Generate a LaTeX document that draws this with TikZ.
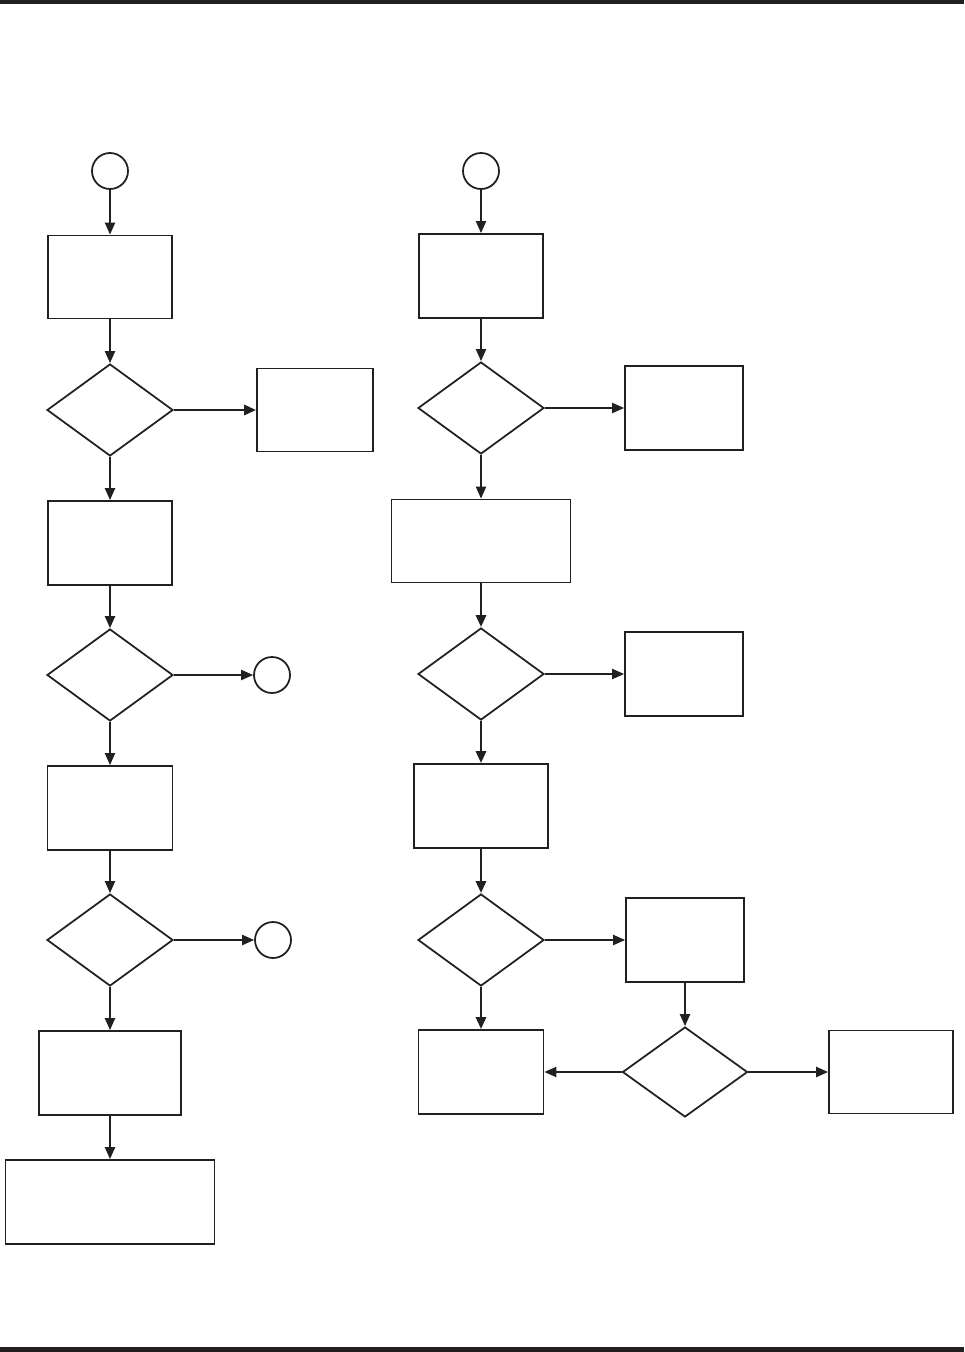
\documentclass[tikz,border=0pt]{standalone}
\usepackage{xcolor}
\usetikzlibrary{shapes.geometric,arrows.meta}
\definecolor{ink}{HTML}{231F20}

\begin{document}
\begin{tikzpicture}[x=0.02cm,y=-0.02cm,
  every node/.style={draw=ink,line width=1pt,inner sep=0pt},
  box/.style 2 args={rectangle,minimum width=#1cm,minimum height=#2cm},
  ask/.style={diamond,minimum width=2.52cm,minimum height=1.84cm},
  link/.style={circle,minimum size=0.72cm},
  flow/.style={draw=ink,line width=1.2pt,-{Triangle[length=0.24cm,width=0.2cm]}}]
\useasboundingbox (0,0) rectangle (964,1352);
\draw[ink,line width=3pt] (0,1.5) -- (964,1.5);
\draw[ink,line width=3pt] (0,1350) -- (964,1350);
% left column
\node[link] (lstart) at (110,171) {};
\node[box={2.48}{1.66}] (lone) at (110,277) {};
\node[ask] (lasko) at (110,410) {};
\node[box={2.32}{1.66}] (lside) at (315,410) {};
\node[box={2.48}{1.68}] (ltwo) at (110,543) {};
\node[ask] (laskt) at (110,675) {};
\node[link] (loutt) at (272,675) {};
\node[box={2.5}{1.68}] (lthree) at (110,808) {};
\node[ask] (laskr) at (110,940) {};
\node[link] (loutr) at (273,940) {};
\node[box={2.84}{1.68}] (lfour) at (110,1073) {};
\node[box={4.18}{1.68}] (lfive) at (110,1202) {};
\draw[flow] (lstart) -- (lone);
\draw[flow] (lone) -- (lasko);
\draw[flow,line width=1.6pt] (lasko) -- (lside);
\draw[flow] (lasko) -- (ltwo);
\draw[flow] (ltwo) -- (laskt);
\draw[flow] (laskt) -- (loutt);
\draw[flow] (laskt) -- (lthree);
\draw[flow] (lthree) -- (laskr);
\draw[flow] (laskr) -- (loutr);
\draw[flow] (laskr) -- (lfour);
\draw[flow] (lfour) -- (lfive);
% right column
\node[link] (rstart) at (481,171) {};
\node[box={2.48}{1.68}] (rone) at (481,276) {};
\node[ask] (rasko) at (481,408) {};
\node[box={2.36}{1.68}] (rsideo) at (684,408) {};
\node[box={3.58}{1.66}] (rtwo) at (481,541) {};
\node[ask] (raskt) at (481,674) {};
\node[box={2.36}{1.68}] (rsidet) at (684,674) {};
\node[box={2.68}{1.68}] (rthree) at (481,806) {};
\node[ask] (raskr) at (481,940) {};
\node[box={2.36}{1.68}] (rsider) at (685,940) {};
\node[box={2.5}{1.68}] (rfour) at (481,1072) {};
\node[ask,minimum width=2.5cm,minimum height=1.8cm] (raskf) at (685,1072) {};
\node[box={2.48}{1.66}] (rend) at (891,1072) {};
\draw[flow] (rstart) -- (rone);
\draw[flow] (rone) -- (rasko);
\draw[flow] (rasko) -- (rsideo);
\draw[flow] (rasko) -- (rtwo);
\draw[flow,line width=1.6pt] (rtwo) -- (raskt);
\draw[flow] (raskt) -- (rsidet);
\draw[flow,line width=1.6pt] (raskt) -- (rthree);
\draw[flow,line width=1.6pt] (rthree) -- (raskr);
\draw[flow] (raskr) -- (rsider);
\draw[flow,line width=1.6pt] (raskr) -- (rfour);
\draw[flow] (rsider) -- (raskf);
\draw[flow] (raskf) -- (rfour);
\draw[flow] (raskf) -- (rend);
\end{tikzpicture}
\end{document}
